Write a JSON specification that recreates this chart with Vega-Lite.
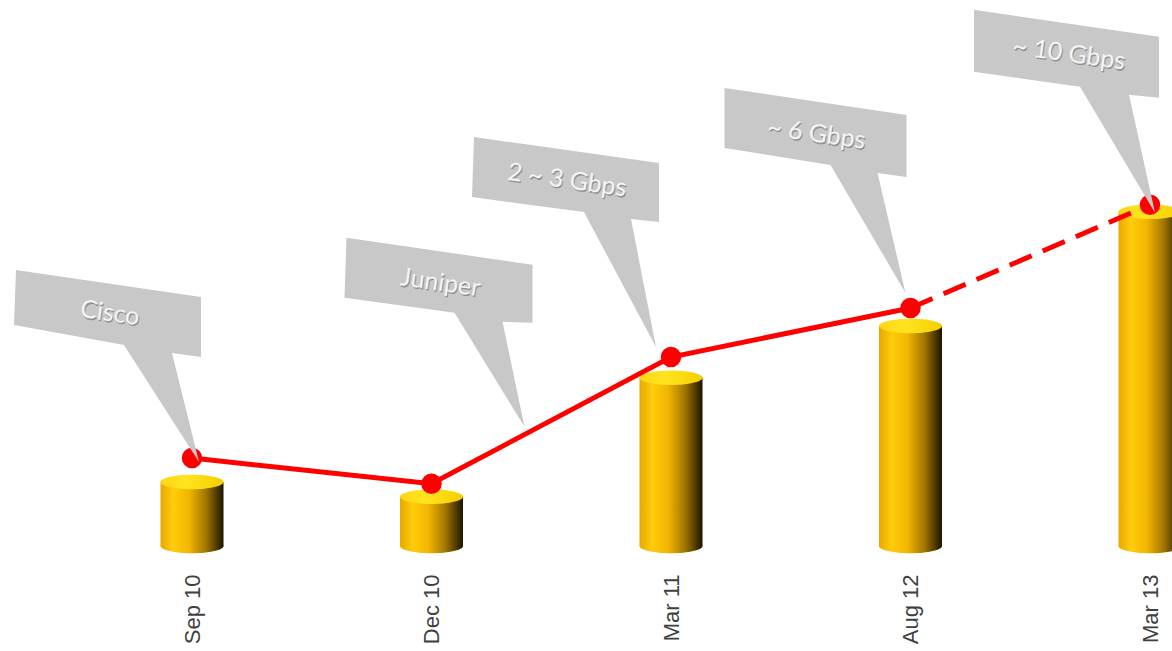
{
  "$schema": "https://vega.github.io/schema/vega-lite/v6.json",
  "width": 1172,
  "height": 546,
  "autosize": {"type": "none"},
  "padding": {"left": 0, "top": 0, "right": 0, "bottom": 105},
  "background": "#ffffff",
  "config": {"view": {"stroke": null}},
  "data": {
    "values": [
      {"date": "Sep 10", "capacity": 1.17, "trend": 1.61, "note": "Cisco"},
      {"date": "Dec 10", "capacity": 0.90, "trend": 1.14, "note": "Juniper"},
      {"date": "Mar 11", "capacity": 3.08, "trend": 3.46, "note": "2 ~ 3 Gbps"},
      {"date": "Aug 12", "capacity": 4.03, "trend": 4.36, "note": "~ 6 Gbps"},
      {"date": "Mar 13", "capacity": 6.12, "trend": 6.25, "note": "~ 10 Gbps"}
    ]
  },
  "encoding": {
    "x": {
      "field": "date",
      "type": "ordinal",
      "sort": null,
      "scale": {"type": "point", "range": [192, 1150], "padding": 0},
      "axis": {
        "title": null,
        "labelAngle": -90,
        "domain": false,
        "ticks": false,
        "tickSize": 0,
        "grid": false,
        "labelFont": "Liberation Sans",
        "labelFontSize": 22,
        "labelColor": "#404040",
        "labelPadding": 28
      }
    }
  },
  "layer": [
    {
      "mark": {
        "type": "point",
        "filled": true,
        "opacity": 1,
        "strokeWidth": 0,
        "size": 3969,
        "shape": "M -1 0 A 1 0.23 0 1 1 1 0 A 1 0.23 0 1 1 -1 0 Z",
        "fill": {
          "gradient": "linear", "x1": 0, "x2": 1, "y1": 0, "y2": 0,
          "stops": [
            {"offset": 0, "color": "#E8A800"},
            {"offset": 0.2, "color": "#FFCC0C"},
            {"offset": 0.45, "color": "#F2B600"},
            {"offset": 0.72, "color": "#A27600"},
            {"offset": 1, "color": "#1C1400"}
          ]
        }
      },
      "encoding": {
        "y": {"datum": 0, "type": "quantitative", "scale": {"domain": [0, 10]}, "axis": null}
      }
    },
    {
      "mark": {
        "type": "bar",
        "width": 63,
        "fill": {
          "gradient": "linear", "x1": 0, "x2": 1, "y1": 0, "y2": 0,
          "stops": [
            {"offset": 0, "color": "#E8A800"},
            {"offset": 0.2, "color": "#FFCC0C"},
            {"offset": 0.45, "color": "#F2B600"},
            {"offset": 0.72, "color": "#A27600"},
            {"offset": 1, "color": "#1C1400"}
          ]
        }
      },
      "encoding": {
        "y": {"field": "capacity", "type": "quantitative", "scale": {"domain": [0, 10]}, "axis": null}
      }
    },
    {
      "mark": {
        "type": "point",
        "filled": true,
        "opacity": 1,
        "strokeWidth": 0,
        "size": 3969,
        "shape": "M -1 0 A 1 0.23 0 1 1 1 0 A 1 0.23 0 1 1 -1 0 Z",
        "fill": {
          "gradient": "linear", "x1": 0, "x2": 1, "y1": 0, "y2": 0,
          "stops": [
            {"offset": 0, "color": "#FFD514"},
            {"offset": 0.4, "color": "#FFE41F"},
            {"offset": 1, "color": "#F4CF00"}
          ]
        }
      },
      "encoding": {
        "y": {"field": "capacity", "type": "quantitative"}
      }
    },
    {
      "transform": [{"filter": "datum.date != 'Mar 13'"}],
      "mark": {"type": "line", "color": "#FF0000", "strokeWidth": 5},
      "encoding": {
        "y": {"field": "trend", "type": "quantitative"}
      }
    },
    {
      "transform": [{"filter": "datum.date == 'Aug 12' || datum.date == 'Mar 13'"}],
      "mark": {"type": "line", "color": "#FF0000", "strokeWidth": 5, "strokeDash": [24, 12]},
      "encoding": {
        "y": {"field": "trend", "type": "quantitative"}
      }
    },
    {
      "mark": {"type": "point", "filled": true, "opacity": 1, "color": "#FF0000", "size": 420, "shape": "circle"},
      "encoding": {
        "y": {"field": "trend", "type": "quantitative"}
      }
    },
    {
      "mark": {"type": "point", "filled": true, "opacity": 1, "color": "#C8C8C8", "strokeWidth": 0, "size": 40000},
      "encoding": {
        "y": {"field": "trend", "type": "quantitative"},
        "shape": {
          "field": "note",
          "type": "nominal",
          "legend": null,
          "scale": {
            "domain": ["Cisco", "Juniper", "2 ~ 3 Gbps", "~ 6 Gbps", "~ 10 Gbps"],
            "range": [
              "M -1.76 -1.88 L 0.09 -1.61 L 0.09 -1.01 L -0.20 -1.05 L 0.07 0.04 L -0.68 -1.13 L -1.78 -1.33 Z",
              "M -0.85 -2.46 L 1.01 -2.19 L 1.01 -1.61 L 0.71 -1.62 L 0.93 -0.57 L 0.23 -1.71 L -0.87 -1.86 Z",
              "M -1.97 -2.20 L -0.12 -1.94 L -0.12 -1.35 L -0.40 -1.38 L -0.15 -0.10 L -0.87 -1.45 L -1.99 -1.60 Z",
              "M -1.86 -2.20 L -0.04 -1.93 L -0.04 -1.31 L -0.33 -1.35 L -0.05 -0.15 L -0.80 -1.43 L -1.86 -1.60 Z",
              "M -1.76 -1.95 L 0.09 -1.68 L 0.09 -1.07 L -0.21 -1.10 L 0.05 0.08 L -0.70 -1.18 L -1.76 -1.33 Z"
            ]
          }
        }
      }
    },
    {
      "transform": [{"filter": "datum.note == 'Cisco'"}],
      "encoding": {"y": {"field": "trend", "type": "quantitative"}, "text": {"field": "note"}},
      "layer": [
        {"mark": {"type": "text", "font": "Lato", "fontSize": 25, "angle": 8, "color": "#6E6E6E", "opacity": 0.6, "dx": -100.2, "dy": -130.8}},
        {"mark": {"type": "text", "font": "Lato", "fontSize": 25, "angle": 8, "color": "#F4F4F4", "dx": -101.4, "dy": -132.2}}
      ]
    },
    {
      "transform": [{"filter": "datum.note == 'Juniper'"}],
      "encoding": {"y": {"field": "trend", "type": "quantitative"}, "text": {"field": "note"}},
      "layer": [
        {"mark": {"type": "text", "font": "Lato", "fontSize": 25, "angle": 8, "color": "#6E6E6E", "opacity": 0.6, "dx": -17.9, "dy": -198.9}},
        {"mark": {"type": "text", "font": "Lato", "fontSize": 25, "angle": 8, "color": "#F4F4F4", "dx": -19.1, "dy": -200.3}}
      ]
    },
    {
      "transform": [{"filter": "datum.note == '2 ~ 3 Gbps'"}],
      "encoding": {"y": {"field": "trend", "type": "quantitative"}, "text": {"field": "note"}},
      "layer": [
        {"mark": {"type": "text", "font": "Lato", "fontSize": 25, "angle": 8, "color": "#6E6E6E", "opacity": 0.6, "dx": -126.4, "dy": -159.4}},
        {"mark": {"type": "text", "font": "Lato", "fontSize": 25, "angle": 8, "color": "#F4F4F4", "dx": -127.6, "dy": -160.8}}
      ]
    },
    {
      "transform": [{"filter": "datum.note == '~ 6 Gbps'"}],
      "encoding": {"y": {"field": "trend", "type": "quantitative"}, "text": {"field": "note"}},
      "layer": [
        {"mark": {"type": "text", "font": "Lato", "fontSize": 25, "angle": 8, "color": "#6E6E6E", "opacity": 0.6, "dx": -116.1, "dy": -157.8}},
        {"mark": {"type": "text", "font": "Lato", "fontSize": 25, "angle": 8, "color": "#F4F4F4", "dx": -117.3, "dy": -159.2}}
      ]
    },
    {
      "transform": [{"filter": "datum.note == '~ 10 Gbps'"}],
      "encoding": {"y": {"field": "trend", "type": "quantitative"}, "text": {"field": "note"}},
      "layer": [
        {"mark": {"type": "text", "font": "Lato", "fontSize": 25, "angle": 8, "color": "#6E6E6E", "opacity": 0.6, "dx": -100.0, "dy": -136.8}},
        {"mark": {"type": "text", "font": "Lato", "fontSize": 25, "angle": 8, "color": "#F4F4F4", "dx": -101.2, "dy": -138.2}}
      ]
    }
  ]
}
